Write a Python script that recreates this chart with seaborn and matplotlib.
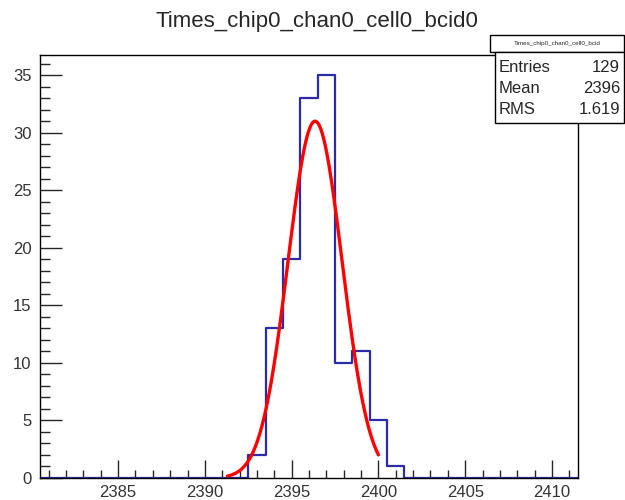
import numpy as np
import pandas as pd
import matplotlib
matplotlib.use("Agg")
import matplotlib.pyplot as plt
from matplotlib.patches import Rectangle
from matplotlib.ticker import MultipleLocator
import seaborn as sns

# ---- data ----
bin_centers = [2393, 2394, 2395, 2396, 2397, 2398, 2399, 2400, 2401]
bin_counts = [2, 13, 19, 33, 35, 10, 11, 5, 1]
bin_width = 1.0
x_range = (2380.5, 2411.5)
y_max = 36.75

# Gaussian fit parameters
fit_amp = 31.0
fit_mean = 2396.35
fit_sigma = 1.56
fit_range = (2391.3, 2400.0)

title = "Times_chip0_chan0_cell0_bcid0"
stats_name = "Times_chip0_chan0_cell0_bcid"
stats_labels = ["Entries", "Mean", "RMS"]
stats_values = ["129", "2396", "1.619"]

# ---- figure ----
sns.set_style("white")
plt.rcParams['font.family'] = ['Liberation Sans', 'DejaVu Sans']

fig = plt.figure(figsize=(6.25, 5.0), dpi=100)
ax = fig.add_axes([40/625, 1-478/500, (578-40)/625, (478-55)/500])

df = pd.DataFrame({"x": bin_centers, "w": bin_counts})
sns.histplot(data=df, x="x", weights="w", binwidth=bin_width, binrange=x_range,
             element="step", fill=False, color="#2b2ba8", linewidth=1.6, ax=ax)

xf = np.linspace(fit_range[0], fit_range[1], 200)
yf = fit_amp * np.exp(-0.5 * ((xf - fit_mean) / fit_sigma) ** 2)
sns.lineplot(x=xf, y=yf, color="red", linewidth=2.4, ax=ax)

ax.set_xlim(*x_range)
ax.set_ylim(0, y_max)
ax.set_xlabel("")
ax.set_ylabel("")
ax.xaxis.set_major_locator(MultipleLocator(5))
ax.xaxis.set_minor_locator(MultipleLocator(1))
ax.yaxis.set_major_locator(MultipleLocator(5))
ax.yaxis.set_minor_locator(MultipleLocator(1))
ax.tick_params(axis="x", which="major", direction="in", length=13, width=1, labelsize=12,
               labelcolor="#333333", pad=5, top=False, bottom=True)
ax.tick_params(axis="x", which="minor", direction="in", length=6, width=1, top=False, bottom=True)
ax.tick_params(axis="y", which="major", direction="in", length=16, width=1, labelsize=12,
               labelcolor="#333333", pad=6, left=True, right=False)
ax.tick_params(axis="y", which="minor", direction="in", length=7, width=1, left=True, right=False)
for s in ax.spines.values():
    s.set_color("black")
    s.set_linewidth(1.0)
    s.set_zorder(3)

fig.text(317/625, 1-22/500, title, ha="center", va="center", fontsize=16)

# stats box
hdr = Rectangle((490/625, 1-52/500), (624-490)/625, 17/500, transform=fig.transFigure,
                facecolor="white", edgecolor="black", linewidth=1.0, zorder=5)
box = Rectangle((495/625, 1-123/500), (624-495)/625, (123-52)/500, transform=fig.transFigure,
                facecolor="white", edgecolor="black", linewidth=1.0, zorder=5)
fig.add_artist(hdr)
fig.add_artist(box)
fig.text(557/625, 1-44/500, stats_name, ha="center", va="center", fontsize=4.5, zorder=6)
for i, (lab, val) in enumerate(zip(stats_labels, stats_values)):
    yy = 1 - (68 + i * 21) / 500
    fig.text(499/625, yy, lab, ha="left", va="center", fontsize=12, zorder=6)
    fig.text(620/625, yy, val, ha="right", va="center", fontsize=12, zorder=6)

fig.savefig("out.png", dpi=100)
